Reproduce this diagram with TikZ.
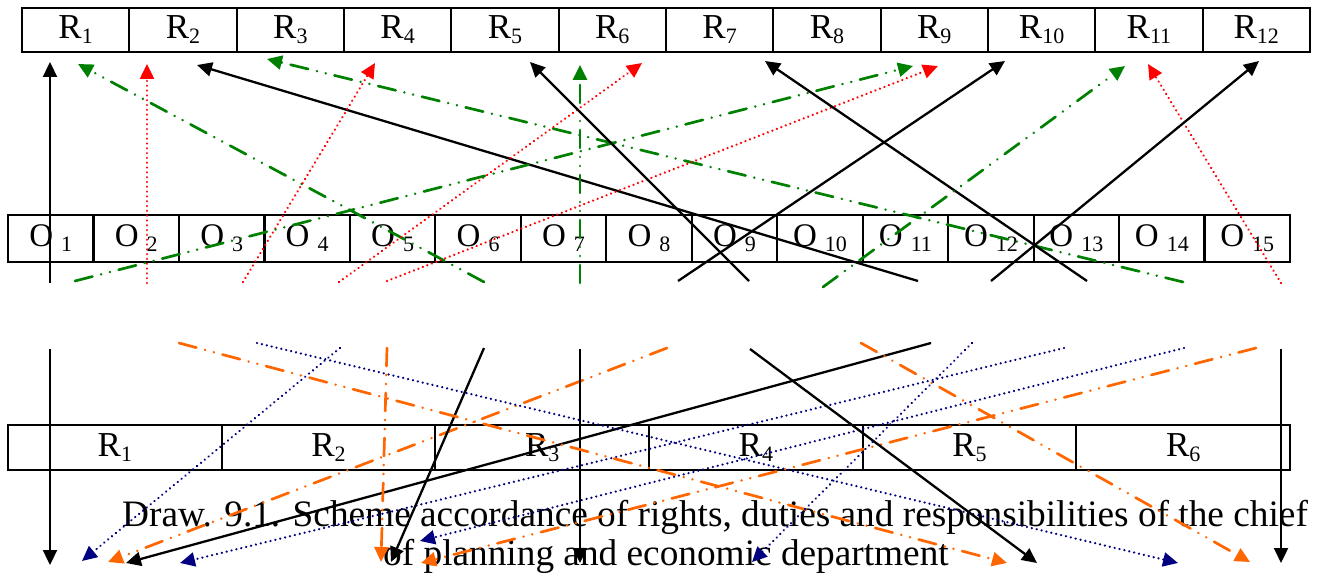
\documentclass[tikz,border=0pt]{standalone}
\usepackage{fontspec}
\setmainfont{Liberation Serif}
\usetikzlibrary{arrows.meta}
\definecolor{wgreen}{RGB}{0,128,0}
\definecolor{wred}{RGB}{255,0,0}
\definecolor{worange}{RGB}{255,102,0}
\definecolor{wnavy}{RGB}{0,0,128}
\newcommand\sbs[1]{\raisebox{-5pt}{\fontsize{22}{22}\selectfont #1}}
\begin{document}
\begin{tikzpicture}[x=1pt,y=-1pt,
  cellbox/.style={draw=black, line width=2.2pt, inner sep=0pt, font=\fontsize{35}{35}\selectfont},
  rtop/.style={cellbox, minimum width=107.33pt, minimum height=44pt},
  ocell/.style={cellbox, minimum width=85.47pt, minimum height=47pt, font=\fontsize{33}{33}\selectfont},
  rbot/.style={cellbox, minimum width=213.67pt, minimum height=45pt},
  arrtip/.style={-{Triangle[length=15pt,width=14pt]}},
  blk/.style={arrtip, black, line width=2.3pt},
  grn/.style={arrtip, wgreen, line width=2.7pt, line cap=round, dash pattern=on 18pt off 9pt on 0.01pt off 9pt on 0.01pt off 9pt},
  org/.style={arrtip, worange, line width=2.7pt, line cap=round, dash pattern=on 18pt off 9pt on 0.01pt off 9pt on 0.01pt off 9pt},
  rdot/.style={arrtip, wred, line width=2.5pt, line cap=round, dash pattern=on 0.01pt off 4.8pt},
  ndot/.style={arrtip, wnavy, line width=2.5pt, line cap=round, dash pattern=on 0.01pt off 5pt},
  captext/.style={anchor=base west, inner sep=0pt, font=\fontsize{37.3}{37.3}\selectfont}
]
\useasboundingbox (0,0) rectangle (1322,580);
\fill[white] (0,0) rectangle (1322,580);

% top row of rights
\foreach \i in {1,...,12} \node[rtop] (t\i) at ({22+107.33*(\i-0.5)},30) {R\sbs{\i}};
% row of duties
\foreach \i in {1,...,15} \node[ocell] (o\i) at ({8+85.47*(\i-0.5)},238.5) {O\hspace{8pt}\sbs{\i}};
% bottom row of responsibilities
\foreach \i in {1,...,6} \node[rbot] (b\i) at ({8+213.67*(\i-0.5)},447.5) {R\sbs{\i}};

% caption
\node[captext] (cap1) at (122,526) {Draw. 9.1. Scheme accordance of rights, duties and responsibilities of the chief};
\node[captext] (cap2) at (383,565) {of planning and economic department};

% upper connectors
\coordinate (ts1) at (50,283);   \coordinate (te1) at (50,62);
\coordinate (ts2) at (484,282);  \coordinate (te2) at (78,64);
\coordinate (ts3) at (147,283);  \coordinate (te3) at (147,64);
\coordinate (ts4) at (918,281);  \coordinate (te4) at (197,65);
\coordinate (ts5) at (243,282);  \coordinate (te5) at (375,63);
\coordinate (ts6) at (1183,282); \coordinate (te6) at (267,59);
\coordinate (ts7) at (339,282);  \coordinate (te7) at (642,63);
\coordinate (ts8) at (387,281);  \coordinate (te8) at (938,66);
\coordinate (ts9) at (75,281);   \coordinate (te9) at (913,66);
\coordinate (ts10) at (580,283); \coordinate (te10) at (580,65);
\coordinate (ts11) at (749,281); \coordinate (te11) at (530,62);
\coordinate (ts12) at (678,281); \coordinate (te12) at (1005,61);
\coordinate (ts13) at (1087,281);\coordinate (te13) at (765,61);
\coordinate (ts14) at (823,287); \coordinate (te14) at (1125,66);
\coordinate (ts15) at (1281,283);\coordinate (te15) at (1148,64);
\coordinate (ts16) at (991,281); \coordinate (te16) at (1259,61);

\draw[blk]  (ts1) -- (te1);
\draw[grn]  (ts2) -- (te2);
\draw[rdot] (ts3) -- (te3);
\draw[blk]  (ts4) -- (te4);
\draw[rdot] (ts5) -- (te5);
\draw[grn]  (ts6) -- (te6);
\draw[rdot] (ts7) -- (te7);
\draw[rdot] (ts8) -- (te8);
\draw[grn]  (ts9) -- (te9);
\draw[grn]  (ts10) -- (te10);
\draw[blk]  (ts11) -- (te11);
\draw[blk]  (ts12) -- (te12);
\draw[blk]  (ts13) -- (te13);
\draw[grn]  (ts14) -- (te14);
\draw[rdot] (ts15) -- (te15);
\draw[blk]  (ts16) -- (te16);

% lower connectors
\coordinate (bs1) at (50,349);   \coordinate (be1) at (50,565);
\coordinate (bs2) at (340,348);  \coordinate (be2) at (82,561);
\coordinate (bs3) at (667,348);  \coordinate (be3) at (108,562);
\coordinate (bs4) at (931,343);  \coordinate (be4) at (126,563);
\coordinate (bs5) at (1064,348); \coordinate (be5) at (180,563);
\coordinate (bs6) at (1184,348); \coordinate (be6) at (420,541);
\coordinate (bs7) at (387,348);  \coordinate (be7) at (381,562);
\coordinate (bs8) at (484,348);  \coordinate (be8) at (391,562);
\coordinate (bs9) at (1256,348); \coordinate (be9) at (421,563);
\coordinate (bs10) at (580,349); \coordinate (be10) at (580,563);
\coordinate (bs11) at (179,343); \coordinate (be11) at (1007,563);
\coordinate (bs12) at (257,343); \coordinate (be12) at (1178,563);
\coordinate (bs13) at (750,349); \coordinate (be13) at (1037,563);
\coordinate (bs14) at (972,343); \coordinate (be14) at (752,562);
\coordinate (bs15) at (861,343); \coordinate (be15) at (1250,562);
\coordinate (bs16) at (1281,349);\coordinate (be16) at (1281,563);

\draw[blk]  (bs1) -- (be1);
\draw[ndot] (bs2) -- (be2);
\draw[org]  (bs3) -- (be3);
\draw[blk]  (bs4) -- (be4);
\draw[ndot] (bs5) -- (be5);
\draw[ndot] (bs6) -- (be6);
\draw[org]  (bs7) -- (be7);
\draw[blk]  (bs8) -- (be8);
\draw[org]  (bs9) -- (be9);
\draw[blk]  (bs10) -- (be10);
\draw[org]  (bs11) -- (be11);
\draw[ndot] (bs12) -- (be12);
\draw[blk]  (bs13) -- (be13);
\draw[ndot] (bs14) -- (be14);
\draw[org]  (bs15) -- (be15);
\draw[blk]  (bs16) -- (be16);
\end{tikzpicture}
\end{document}
